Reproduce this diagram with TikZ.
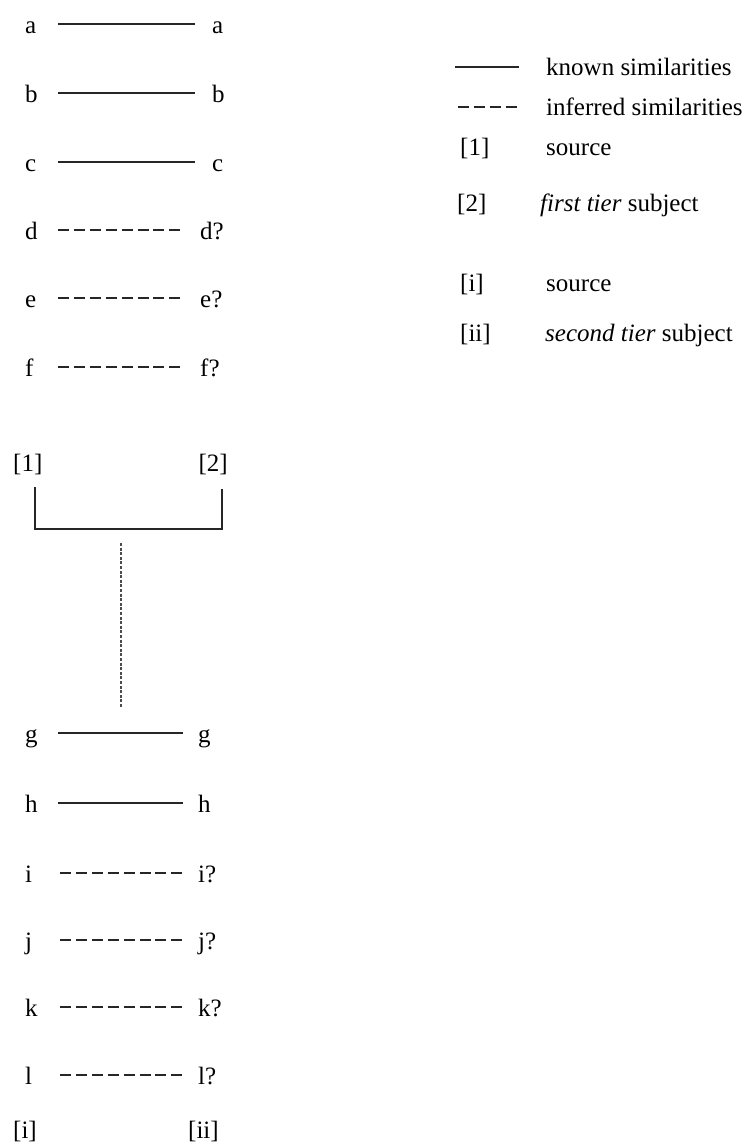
\documentclass[tikz,border=0pt]{standalone}
\usepackage{fontspec}
\setmainfont{Liberation Serif}
\begin{document}
\begin{tikzpicture}[x=1pt,y=-1pt,
  lbl/.style={inner sep=0pt, font=\fontsize{25}{30}\selectfont},
  known/.style={line width=1.5pt, black!85},
  inferred/.style={line width=1.5pt, black!85, dash pattern=on 11pt off 4.9pt},
  tier/.style={line width=1.4pt, black!85},
  link/.style={line width=1.2pt, black!70, dash pattern=on 3pt off 1.6pt}]
\useasboundingbox (0,0) rectangle (750,1144);

% ---------- first tier: known pairs ----------
\foreach \n/\y/\r in {a/24/212, b/93/212, c/162/212} {
  \node[lbl, anchor=base west] (L\n) at (25,\y+9) {\n};
  \node[lbl, anchor=base west] (R\n) at (\r,\y+9) {\n};
  \coordinate (S\n) at (58,\y);
  \coordinate (E\n) at (195,\y);
  \draw[known] (S\n) -- (E\n);
}
% ---------- first tier: inferred pairs ----------
\foreach \n/\y/\r in {d/230/200, e/298/200, f/367/200} {
  \node[lbl, anchor=base west] (L\n) at (25,\y+9) {\n};
  \node[lbl, anchor=base west] (R\n) at (\r,\y+9) {\n?};
  \coordinate (S\n) at (58,\y);
  \coordinate (E\n) at (181,\y);
  \draw[inferred] (S\n) -- (E\n);
}

% ---------- source / subject bracket ----------
\node[lbl, anchor=base west] (src1) at (13,471) {[1]};
\node[lbl, anchor=base east] (sub2) at (228,471) {[2]};
\coordinate (bl) at (35,487);
\coordinate (br) at (222,489);
\coordinate (bbl) at (35,529);
\coordinate (bbr) at (222,529);
\draw[tier] (bl) -- (bbl) -- (bbr) -- (br);
\coordinate (tierTop) at (121,543);
\coordinate (tierBot) at (121,708);
\draw[link] (tierTop) -- (tierBot);

% ---------- second tier: known pairs ----------
\foreach \n/\y in {g/733, h/803} {
  \node[lbl, anchor=base west] (L\n) at (25,\y+9) {\n};
  \node[lbl, anchor=base west] (R\n) at (198,\y+9) {\n};
  \coordinate (S\n) at (58,\y);
  \coordinate (E\n) at (183,\y);
  \draw[known] (S\n) -- (E\n);
}
% ---------- second tier: inferred pairs ----------
\foreach \n/\y in {i/873, j/940, k/1007, l/1075} {
  \node[lbl, anchor=base west] (L\n) at (25,\y+9) {\n};
  \node[lbl, anchor=base west] (R\n) at (198,\y+9) {\n?};
  \coordinate (S\n) at (60,\y);
  \coordinate (E\n) at (183,\y);
  \draw[inferred] (S\n) -- (E\n);
}
\node[lbl, anchor=base west] (srci) at (13,1138) {[i]};
\node[lbl, anchor=base west] (subii) at (188,1138) {[ii]};

% ---------- legend ----------
\coordinate (kA) at (455,67);
\coordinate (kB) at (519,67);
\draw[known] (kA) -- (kB);
\node[lbl, anchor=base west] (kText) at (546,75) {known similarities};
\coordinate (iA) at (458,107);
\coordinate (iB) at (519,107);
\draw[inferred] (iA) -- (iB);
\node[lbl, anchor=base west] (iText) at (546,115) {inferred similarities};
\node[lbl, anchor=base west] (key1) at (460,155) {[1]};
\node[lbl, anchor=base west] (key1t) at (546,155) {source};
\node[lbl, anchor=base west] (key2) at (457,211) {[2]};
\node[lbl, anchor=base west] (key2t) at (540,211) {\textit{first tier} subject};
\node[lbl, anchor=base west] (keyi) at (460,291) {[i]};
\node[lbl, anchor=base west] (keyit) at (546,291) {source};
\node[lbl, anchor=base west] (keyii) at (460,341) {[ii]};
\node[lbl, anchor=base west] (keyiit) at (545,341) {\textit{second tier} subject};
\end{tikzpicture}
\end{document}
